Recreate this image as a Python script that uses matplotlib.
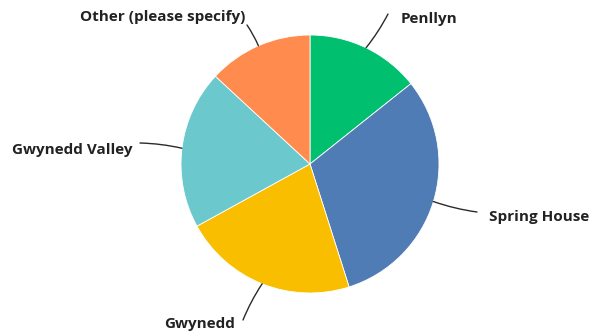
import numpy as np
import matplotlib.pyplot as plt
from matplotlib.patches import FancyArrowPatch

labels = ['Penllyn', 'Spring House', 'Gwynedd', 'Gwynedd Valley', 'Other (please specify)']
values = [14.3, 30.8, 21.9, 19.9, 13.1]
colors = ['#00BF6F', '#507CB6', '#F9BE00', '#6BC8CD', '#FF8B4F']

# label layout in pixel coords (y up): line end, text anchor, ha
label_pos = {
    'Penllyn': ((388, 320), (401, 315), 'left'),
    'Spring House': ((477, 122), (489, 117), 'left'),
    'Gwynedd': ((243, 14), (235, 10), 'right'),
    'Gwynedd Valley': ((140, 191), (133, 184), 'right'),
    'Other (please specify)': ((247, 309), (245, 317), 'right'),
}

plt.rcParams['font.family'] = ['Open Sans', 'DejaVu Sans']

fig = plt.figure(figsize=(5.96, 3.34), dpi=100)
ax = fig.add_axes([0, 0, 1, 1])
cx, cy, r = 310, 170, 129
wedges, _ = ax.pie(values, colors=colors, startangle=90, counterclock=False,
                   center=(cx, cy), radius=r,
                   wedgeprops=dict(edgecolor='white', linewidth=0.6))
ax.set_xlim(0, 596)
ax.set_ylim(0, 334)
ax.set_aspect('equal')
ax.axis('off')

for w, lab in zip(wedges, labels):
    ang = np.deg2rad((w.theta1 + w.theta2) / 2)
    edge = (cx + r * np.cos(ang), cy + r * np.sin(ang))
    end, txt, ha = label_pos[lab]
    ax.add_patch(FancyArrowPatch(edge, end, arrowstyle='-', color='#2b2b2b',
                                 lw=1.0, connectionstyle='arc3,rad=0.05',
                                 shrinkA=0, shrinkB=0))
    ax.text(txt[0], txt[1], lab, ha=ha, va='center', fontsize=11,
            fontweight='bold', color='#222222')

fig.savefig('out.png', dpi=100)
